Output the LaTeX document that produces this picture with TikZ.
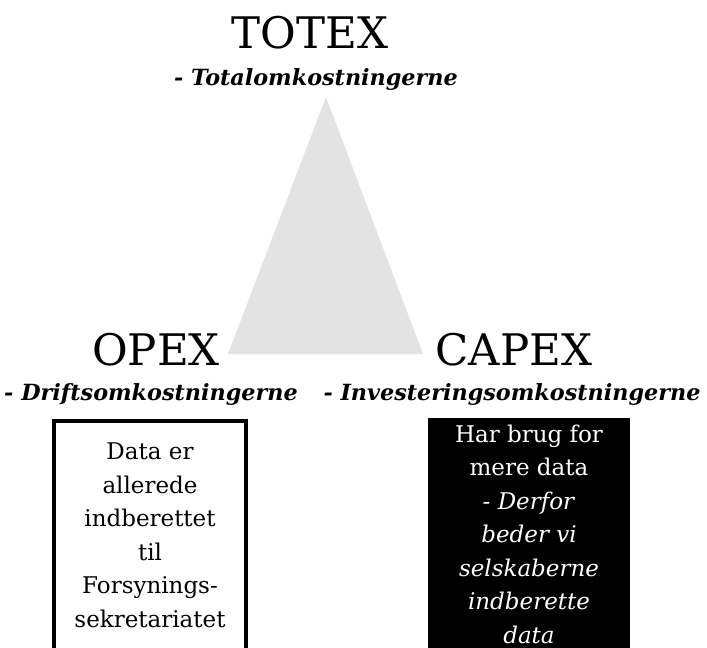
\documentclass[tikz,border=0pt]{standalone}
\usepackage{fontspec}
\setmainfont{DejaVu Serif}
\begin{document}
\begin{tikzpicture}[x=1pt,y=-1pt,
  title/.style={anchor=base,inner sep=0pt,font=\fontsize{43.5}{43.5}\selectfont},
  sub/.style={anchor=base,inner sep=0pt,font=\fontsize{22.3}{22.3}\selectfont\bfseries\itshape},
  boxtext/.style={anchor=north,inner sep=0pt,align=center,font=\fontsize{23}{33.5}\selectfont}]
\clip (0,0) rectangle (707,648);
\fill[white] (0,0) rectangle (707,648);
% triangle
\fill[gray!22] (326,97) -- (423,354) -- (228,354) -- cycle;
% titles
\node[title] (totex) at (310,48) {TOTEX};
\node[sub] (totexsub) at (316,85) {- Totalomkostningerne};
\node[title] (opex) at (156,365) {OPEX};
\node[sub] (opexsub) at (151,400) {- Driftsomkostningerne};
\node[title] (capex) at (514,365) {CAPEX};
\node[sub] (capexsub) at (512,400) {- Investeringsomkostningerne};
% boxes
\draw[line width=3.5pt] (54,421) rectangle (246,700);
\fill[black] (428,418) rectangle (630,700);
\node[boxtext] (opextext) at (150,443) {Data er\\allerede\\indberettet\\til\\Forsynings-\\sekretariatet};
\node[boxtext,text=white] (capextext) at (529,424.5) {Har brug for\\mere data\\\textit{- Derfor}\\\textit{beder vi}\\\textit{selskaberne}\\\textit{indberette}\\\textit{data}};
\end{tikzpicture}
\end{document}
